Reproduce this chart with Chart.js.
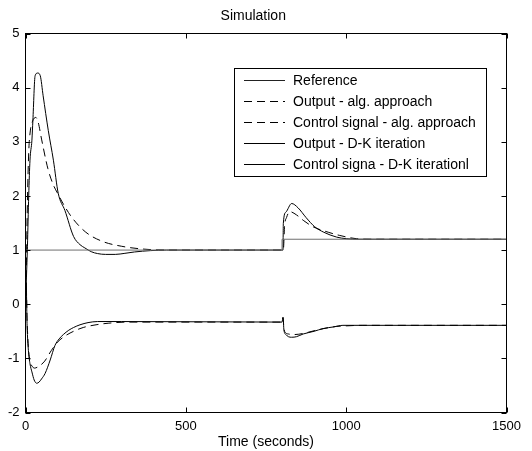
<!DOCTYPE html>
<html>
<head>
<meta charset="utf-8">
<script src="https://cdn.jsdelivr.net/npm/chart.js@4.4.0/dist/chart.umd.min.js"></script>
<style>
  html, body { margin: 0; padding: 0; background: #fff; }
</style>
</head>
<body>
<canvas id="simChart" width="532" height="451"></canvas>
<script>
// DATA

const refTime = [0, 0, 800, 800, 1500];
const refValue = [0, 1, 1, 1.2, 1.2];

const outAlgTime = [0, 3, 6, 10, 15, 22, 32, 40, 50, 70, 87, 100, 118, 145, 188, 240, 300, 364, 440,
  800, 804, 808, 814, 824, 845, 866, 897, 944, 980, 1032, 1080, 1500];
const outAlgValue = [0, 0.8, 1.9, 2.8, 3.2, 3.38, 3.45, 3.35, 3.05, 2.5, 2.2, 2.05, 1.85, 1.6, 1.33, 1.16, 1.07, 1.02, 1.0,
  1.0, 1.0, 1.45, 1.6, 1.71, 1.65, 1.55, 1.43, 1.33, 1.27, 1.21, 1.2, 1.2];

const ctlAlgTime = [0, 2, 5, 9, 14, 20, 28, 38, 48, 60, 80, 100, 120, 150, 180, 220, 260, 320, 400,
  800, 803, 806, 812, 820, 840, 866, 900, 930, 970, 1000, 1050, 1500];
const ctlAlgValue = [0, 0.4, -0.3, -0.8, -1.05, -1.14, -1.18, -1.16, -1.12, -1.05, -0.86, -0.7, -0.6, -0.5, -0.43, -0.38, -0.35, -0.33, -0.33,
  -0.33, -0.25, -0.45, -0.53, -0.55, -0.56, -0.54, -0.49, -0.45, -0.41, -0.4, -0.39, -0.39];

const outDkTime = [0, 3, 6, 10, 14, 20, 23, 30, 38, 46, 55, 71, 87, 102, 123, 150, 170, 185, 205, 225, 250, 280, 310, 340, 390, 440,
  800, 803, 804, 812, 830, 850, 875, 902, 930, 970, 1000, 1040, 1500];
const outDkValue = [0, 0.5, 1.06, 2.0, 2.66, 3.03, 3.39, 4.22, 4.27, 4.22, 3.85, 3.21, 2.66, 2.05, 1.73, 1.25, 1.1, 1.04, 0.97, 0.935, 0.92, 0.92, 0.94, 0.965, 0.99, 1.0,
  1.0, 1.0, 1.49, 1.7, 1.86, 1.78, 1.6, 1.43, 1.33, 1.24, 1.21, 1.2, 1.2];

const ctlDkTime = [0, 2, 5, 9, 14, 20, 27, 35, 42, 50, 61, 77, 92, 105, 118, 135, 150, 170, 195, 225, 300,
  800, 803, 806, 812, 820, 830, 845, 866, 900, 928, 960, 990, 1040, 1500];
const ctlDkValue = [0, 0.4, -0.4, -0.85, -1.1, -1.25, -1.4, -1.46, -1.44, -1.38, -1.28, -1.03, -0.76, -0.64, -0.56, -0.48, -0.43, -0.38, -0.34, -0.32, -0.32,
  -0.33, -0.24, -0.48, -0.56, -0.6, -0.61, -0.6, -0.55, -0.5, -0.45, -0.42, -0.39, -0.39, -0.39];

const xTickStep = 500;
const yTickStep = 1;

// HELPERS

const FONT = "'Liberation Sans', Arial, sans-serif";

function toPoints(xs, ys) {
  return xs.map((x, i) => ({ x: x, y: ys[i] }));
}

function curve(label, xs, ys, color, dash) {
  return {
    label: label,
    data: toPoints(xs, ys),
    borderColor: color,
    borderWidth: 1,
    borderDash: dash,
    pointRadius: 0,
    fill: false,
    cubicInterpolationMode: "monotone"
  };
}

// FRAME, INWARD TICKS, LEGEND (matlab look)

const matlabFrame = {
  id: "matlabFrame",
  afterDatasetsDraw(chart) {
    const { ctx, chartArea: a, scales } = chart;
    const x = scales.x, y = scales.y;
    ctx.save();
    ctx.strokeStyle = "#000";
    ctx.lineWidth = 1;
    ctx.setLineDash([]);
    ctx.strokeRect(a.left, a.top, a.right - a.left, a.bottom - a.top);

    ctx.beginPath();
    x.ticks.forEach(t => {
      const px = Math.round(x.getPixelForValue(t.value)) + 0.5;
      ctx.moveTo(px, a.bottom); ctx.lineTo(px, a.bottom - 5);
      ctx.moveTo(px, a.top); ctx.lineTo(px, a.top + 5);
    });
    y.ticks.forEach(t => {
      const py = Math.round(y.getPixelForValue(t.value)) + 0.5;
      ctx.moveTo(a.left, py); ctx.lineTo(a.left + 5, py);
      ctx.moveTo(a.right, py); ctx.lineTo(a.right - 5, py);
    });
    ctx.stroke();

    // legend box
    const box = { left: 234.5, top: 68.5, right: 486.5, bottom: 176.5 };
    ctx.fillStyle = "#fff";
    ctx.fillRect(box.left, box.top, box.right - box.left, box.bottom - box.top);
    ctx.strokeRect(box.left, box.top, box.right - box.left, box.bottom - box.top);

    ctx.font = "14px " + FONT;
    ctx.textBaseline = "middle";
    ctx.textAlign = "left";
    chart.data.datasets.forEach((ds, i) => {
      const ly = 80.5 + i * 21;
      ctx.beginPath();
      ctx.strokeStyle = i === 0 ? "#222" : ds.borderColor;
      ctx.setLineDash(ds.borderDash || []);
      ctx.moveTo(244, ly);
      ctx.lineTo(285, ly);
      ctx.stroke();
      ctx.fillStyle = "#000";
      ctx.fillText(ds.label, 293, ly + 1);
    });
    ctx.restore();
  }
};

// CHART

const dash = [8, 5];

new Chart(document.getElementById("simChart"), {
  type: "line",
  data: {
    datasets: [
      Object.assign(curve("Reference", refTime, refValue, "#6e6e6e", []), { cubicInterpolationMode: "default", tension: 0 }),
      curve("Output - alg. approach", outAlgTime, outAlgValue, "#000", dash),
      curve("Control signal - alg. approach", ctlAlgTime, ctlAlgValue, "#000", dash),
      curve("Output - D-K iteration", outDkTime, outDkValue, "#000", []),
      curve("Control signa - D-K iterationl", ctlDkTime, ctlDkValue, "#000", [])
    ]
  },
  options: {
    responsive: false,
    animation: false,
    events: [],
    layout: { padding: { left: 0, right: 25.5, top: 0, bottom: 0 } },
    plugins: {
      legend: { display: false },
      tooltip: { enabled: false },
      title: {
        display: true,
        text: "Simulation",
        color: "#000",
        font: { family: FONT, size: 14, weight: "normal" },
        padding: { top: 8, bottom: 8.7 }
      }
    },
    scales: {
      x: {
        type: "linear",
        min: 0,
        max: 1500,
        ticks: {
          stepSize: xTickStep, color: "#000", font: { family: FONT, size: 13 }, padding: 6, maxRotation: 0,
          callback: v => String(v)
        },
        grid: { display: false, drawTicks: false },
        border: { display: false },
        title: {
          display: true,
          text: "Time (seconds)",
          color: "#000",
          font: { family: FONT, size: 14 },
          padding: { top: 0, bottom: 0 }
        },
        afterFit(s) { s.height = 38.5; }
      },
      y: {
        type: "linear",
        min: -2,
        max: 5,
        ticks: {
          stepSize: yTickStep, color: "#000", font: { family: FONT, size: 13 }, padding: 6,
          callback: v => String(v)
        },
        grid: { display: false, drawTicks: false },
        border: { display: false },
        afterFit(s) { s.width = 25.5; }
      }
    }
  },
  plugins: [matlabFrame]
});
</script>
</body>
</html>
